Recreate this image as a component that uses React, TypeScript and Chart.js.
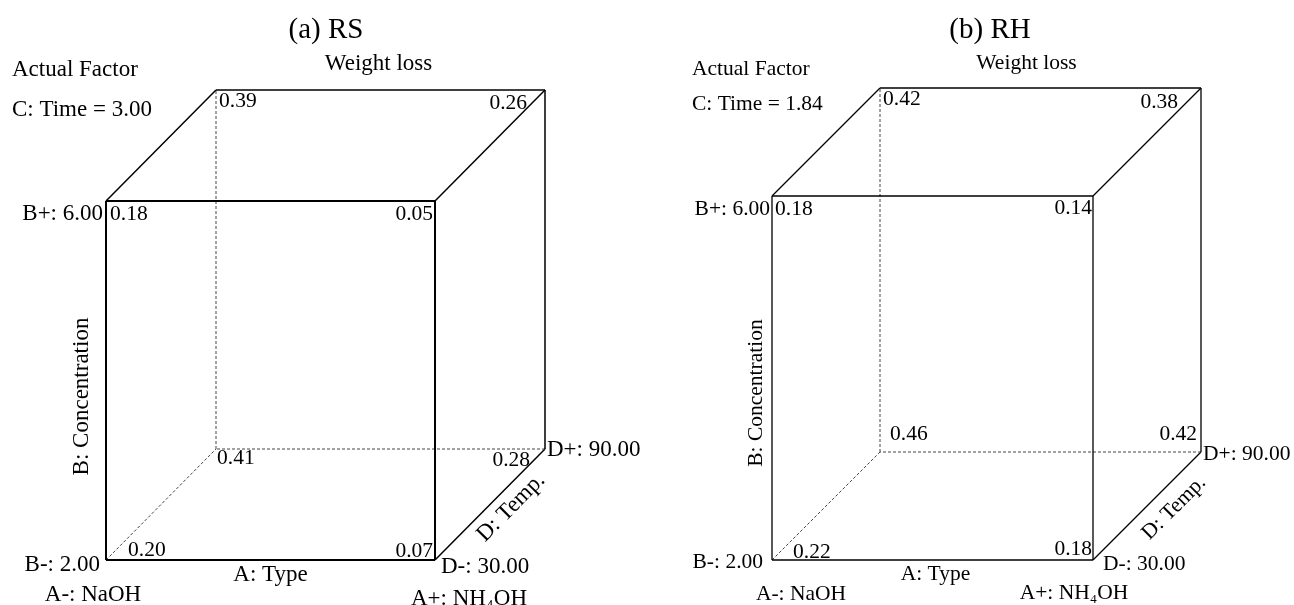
import React, { useEffect, useRef } from "react";
import { Chart, registerables } from "chart.js";
Chart.register(...registerables);

// ---- data ----
// corner order: FBL, FBR, FTL, FTR, BBL, BBR, BTL, BTR (coded factor levels)
const cornerA = [-1, 1, -1, 1, -1, 1, -1, 1];
const cornerB = [-1, -1, 1, 1, -1, -1, 1, 1];
const cornerD = [-1, -1, -1, -1, 1, 1, 1, 1];

const rsValues = ["0.20", "0.07", "0.18", "0.05", "0.41", "0.28", "0.39", "0.26"];
const rhValues = ["0.22", "0.18", "0.18", "0.14", "0.46", "0.42", "0.42", "0.38"];

const panelTitles = ["(a) RS", "(b) RH"];
const responseName = "Weight loss";
const actualFactorTitle = "Actual Factor";
const timeSettings = ["C: Time = 3.00", "C: Time = 1.84"];
const factorALabels = ["A-: NaOH", "A+: NH\u2084OH"];
const factorBLabels = ["B-: 2.00", "B+: 6.00"];
const factorDLabels = ["D-: 30.00", "D+: 90.00"];
const axisNames = ["A: Type", "B: Concentration", "D: Temp."];

// cube edges (pairs of corner indices)
const edges: number[][] = [
  [0, 1], [1, 3], [3, 2], [2, 0],
  [6, 7], [7, 5], [5, 4], [4, 6],
  [2, 6], [3, 7], [1, 5], [0, 4],
];

const FONT = '"Liberation Serif", "Times New Roman", "DejaVu Serif", serif';
const H = 605;

type Cfg = {
  left: number; width: number;
  frontLeft: number; frontRight: number; frontTop: number; frontBottom: number;
  depthX: number; depthY: number;
  values: string[]; title: string; time: string;
  titleX: number; infoX: number; timeY: number;
  labelSize: number; valueSize: number; titleSize: number;
  frontWidth: number; edgeWidth: number;
  valueOff: [string, number, number][];
  lab: Record<string, number[]>;
};

const panels: Cfg[] = [
  {
    left: 0, width: 647,
    frontLeft: 106, frontRight: 435, frontTop: 201, frontBottom: 560,
    depthX: 110, depthY: 111,
    values: rsValues, title: panelTitles[0], time: timeSettings[0],
    titleX: 326, infoX: 12, timeY: 108,
    labelSize: 23, valueSize: 21.5, titleSize: 29,
    frontWidth: 2, edgeWidth: 1.5,
    valueOff: [
      ["left", 22, -11], ["right", -2, -10], ["left", 4, 12], ["right", -2, 12],
      ["left", 1, 8], ["right", -15, 10], ["left", 3, 10], ["right", -18, 12],
    ],
    lab: {
      bPlus: [-3, 11], bMinus: [-6, 3], aMinus: [-13, 33], aPlus: [34, 37],
      aName: [0, 13], dMinus: [6, 5], dPlus: [2, -1], dName: [20, 2],
      bName: [-26, 16], weight: [-2, -28],
    },
  },
  {
    left: 647, width: 647,
    frontLeft: 125, frontRight: 446, frontTop: 196, frontBottom: 560,
    depthX: 108, depthY: 108,
    values: rhValues, title: panelTitles[1], time: timeSettings[1],
    titleX: 343, infoX: 45, timeY: 103,
    labelSize: 21.5, valueSize: 21.5, titleSize: 29,
    frontWidth: 1.3, edgeWidth: 1.3,
    valueOff: [
      ["left", 21, -9], ["right", -1, -12], ["left", 3, 12], ["right", -1, 11],
      ["left", 10, -19], ["right", -4, -19], ["left", 3, 10], ["right", -23, 13],
    ],
    lab: {
      bPlus: [-2, 12], bMinus: [-9, 1], aMinus: [29, 33], aPlus: [-19, 32],
      aName: [3, 13], dMinus: [10, 3], dPlus: [2, 1], dName: [26, 1],
      bName: [-17, 15], weight: [-14, -26],
    },
  },
];

function txt(ctx: CanvasRenderingContext2D, s: string, x: number, y: number, size: number, align: CanvasTextAlign, rot = 0) {
  ctx.save();
  ctx.translate(x, y);
  if (rot) ctx.rotate(rot);
  ctx.font = `${size}px ${FONT}`;
  ctx.textAlign = align;
  ctx.textBaseline = "alphabetic";
  ctx.fillStyle = "#000";
  ctx.fillText(s, 0, size * 0.33);
  ctx.restore();
}

function CubePanel({ cfg }: { cfg: Cfg }) {
  const ref = useRef<HTMLCanvasElement>(null);
  useEffect(() => {
    const w = cfg.frontRight - cfg.frontLeft;
    const h = cfg.frontBottom - cfg.frontTop;
    const dx = cfg.depthX / w;
    const dy = cfg.depthY / h;
    const X = (i: number) => (cornerA[i] + 1) / 2 + dx * (cornerD[i] + 1) / 2;
    const Y = (i: number) => (cornerB[i] + 1) / 2 + dy * (cornerD[i] + 1) / 2;

    const datasets = edges.map(([p, q]) => {
      const hidden = p === 4 || q === 4;
      const front = cornerD[p] === -1 && cornerD[q] === -1;
      return {
        data: [{ x: X(p), y: Y(p) }, { x: X(q), y: Y(q) }],
        showLine: true,
        borderColor: hidden ? "#444" : "#000",
        borderWidth: hidden ? 1 : front ? cfg.frontWidth : cfg.edgeWidth,
        borderDash: hidden ? [3, 2] : [],
        pointRadius: 0,
        pointHoverRadius: 0,
        fill: false,
        clip: false as any,
      };
    });

    const labels = {
      id: "cubeLabels",
      afterDatasetsDraw(chart: any) {
        const ctx: CanvasRenderingContext2D = chart.ctx;
        const xs = chart.scales.x, ys = chart.scales.y;
        const px = (i: number) => xs.getPixelForValue(X(i));
        const py = (i: number) => ys.getPixelForValue(Y(i));
        const L = cfg.lab;
        const ls = cfg.labelSize;
        // corner values
        cfg.values.forEach((v, i) => {
          const [al, ox, oy] = cfg.valueOff[i];
          txt(ctx, v, px(i) + ox, py(i) + oy, cfg.valueSize, al as CanvasTextAlign);
        });
        // titles
        txt(ctx, cfg.title, cfg.titleX, 28, cfg.titleSize, "center");
        txt(ctx, actualFactorTitle, cfg.infoX, 68, ls, "left");
        txt(ctx, cfg.time, cfg.infoX, cfg.timeY, ls, "left");
        txt(ctx, responseName, (px(6) + px(7)) / 2 + L.weight[0], py(6) + L.weight[1], ls, "center");
        // factor levels
        txt(ctx, factorBLabels[1], px(2) + L.bPlus[0], py(2) + L.bPlus[1], ls, "right");
        txt(ctx, factorBLabels[0], px(0) + L.bMinus[0], py(0) + L.bMinus[1], ls, "right");
        txt(ctx, factorALabels[0], px(0) + L.aMinus[0], py(0) + L.aMinus[1], ls, "center");
        txt(ctx, factorALabels[1], px(1) + L.aPlus[0], py(1) + L.aPlus[1], ls, "center");
        txt(ctx, factorDLabels[0], px(1) + L.dMinus[0], py(1) + L.dMinus[1], ls, "left");
        txt(ctx, factorDLabels[1], px(5) + L.dPlus[0], py(5) + L.dPlus[1], ls, "left");
        // axis names
        txt(ctx, axisNames[0], (px(0) + px(1)) / 2 + L.aName[0], py(0) + L.aName[1], ls, "center");
        txt(ctx, axisNames[1], px(0) + L.bName[0], (py(0) + py(2)) / 2 + L.bName[1], ls, "center", -Math.PI / 2);
        const ang = Math.atan2(py(5) - py(1), px(5) - px(1));
        txt(ctx, axisNames[2], (px(1) + px(5)) / 2 + L.dName[0], (py(1) + py(5)) / 2 + L.dName[1], ls, "center", ang);
      },
    };

    const chart = new Chart(ref.current!, {
      type: "scatter",
      data: { datasets: datasets as any },
      options: {
        animation: false,
        responsive: false,
        maintainAspectRatio: false,
        events: [],
        layout: { padding: 0 },
        scales: {
          x: { type: "linear", display: false, min: -cfg.frontLeft / w, max: (cfg.width - cfg.frontLeft) / w },
          y: { type: "linear", display: false, min: -(H - cfg.frontBottom) / h, max: cfg.frontBottom / h },
        },
        plugins: { legend: { display: false }, tooltip: { enabled: false }, title: { display: false } },
      },
      plugins: [labels],
    });
    return () => chart.destroy();
  }, [cfg]);
  return (
    <canvas
      ref={ref}
      width={cfg.width}
      height={H}
      style={{ position: "absolute", left: cfg.left, top: 0, width: cfg.width, height: H }}
    />
  );
}

export default function App() {
  return (
    <div style={{ position: "absolute", left: 0, top: 0, width: 1294, height: H, background: "#fff", overflow: "hidden" }}>
      {panels.map((p, i) => (
        <CubePanel key={i} cfg={p} />
      ))}
    </div>
  );
}
